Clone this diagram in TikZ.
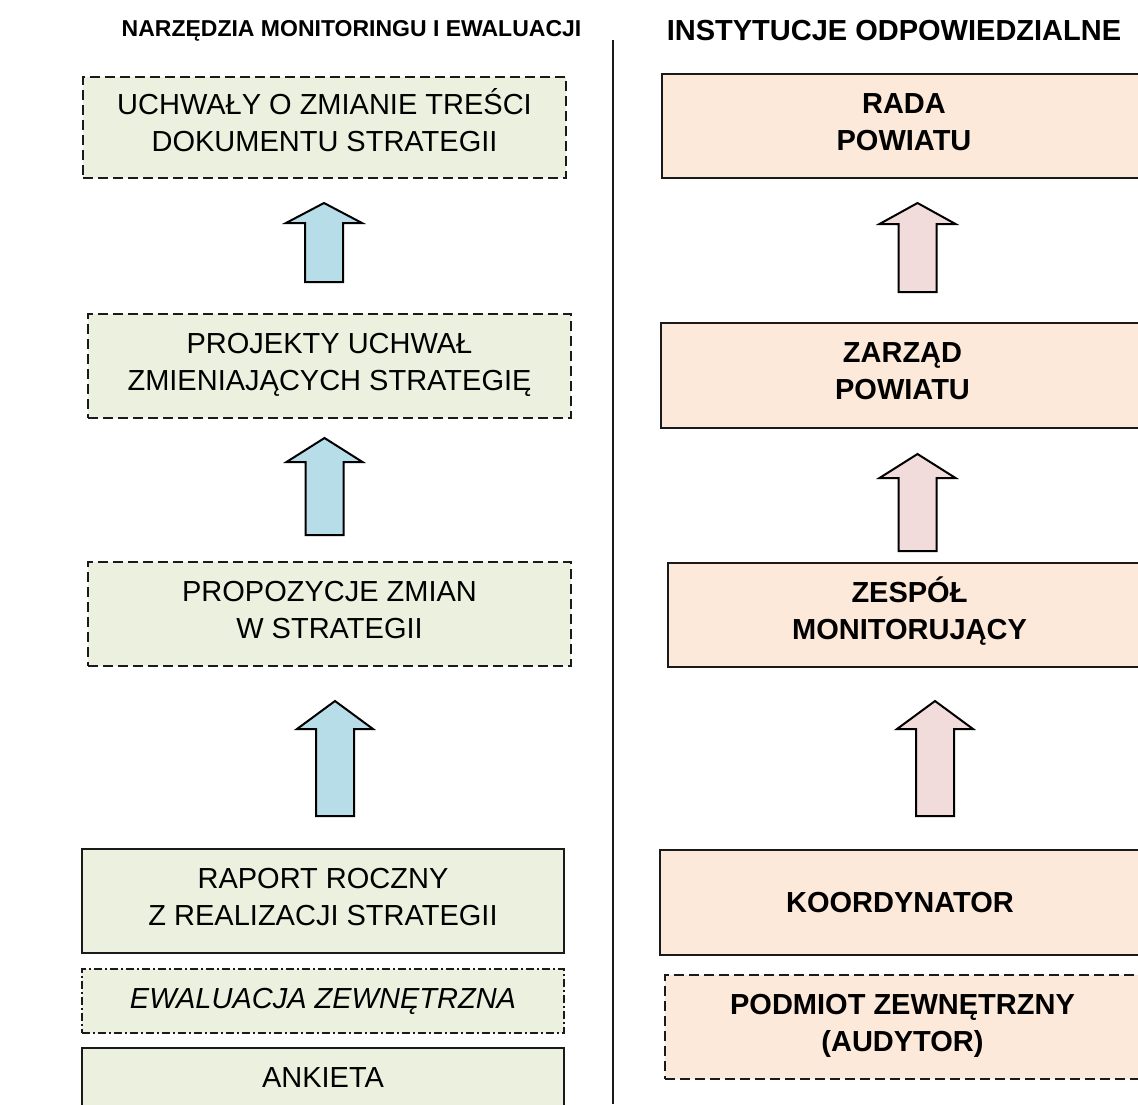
\documentclass[tikz,border=0pt]{standalone}
\usepackage{fontspec}
\setmainfont{Liberation Sans}
\definecolor{greenfill}{HTML}{EBF1DE}
\definecolor{orangefill}{HTML}{FDE9D9}
\definecolor{bluearrow}{HTML}{B7DEE8}
\definecolor{pinkarrow}{HTML}{F2DCDB}
\definecolor{edgecol}{HTML}{1A1A1A}
\newcommand\tophold{\rule{0pt}{27pt}}
\newcommand\bothold{\rule[-16pt]{0pt}{16pt}}
\begin{document}
\begin{tikzpicture}[x=1pt,y=-1pt,
  every node/.style={font=\fontsize{29}{37}\selectfont, align=center, inner sep=0pt},
  boxbase/.style={draw=edgecol, line width=1.6pt},
  lbox/.style={boxbase, fill=greenfill},
  rbox/.style={boxbase, fill=orangefill, font=\fontsize{29}{37}\selectfont\bfseries},
  dashline/.style={dash pattern=on 10pt off 5pt},
  dashdotline/.style={dash pattern=on 8pt off 3pt on 2pt off 3pt},
  heading/.style={font=\fontsize{23}{28}\selectfont\bfseries},
  blockarrow/.style={draw=black, line width=2pt, line join=miter},
  pics/uparrow/.style 2 args={code={
    \draw[pic actions] (0,0) -- (38,#1) -- (19,#1) -- (19,#2) -- (-19,#2) -- (-19,#1) -- (-38,#1) -- cycle;
  }}
]
\useasboundingbox (0,0) rectangle (1138,1104);
\clip (0,0) rectangle (1138,1104);

% headings
\node[heading] (hleft) at (351.5,31) {NARZĘDZIA MONITORINGU I EWALUACJI};
\node[heading, font=\fontsize{29}{34}\selectfont\bfseries] (hright) at (894,31) {INSTYTUCJE ODPOWIEDZIALNE};

% divider
\coordinate (divtop) at (613,40);
\coordinate (divbot) at (613,1104);
\draw[line width=1.5pt, edgecol] (divtop) -- (divbot);

% left column
\node[lbox, dashline, minimum width=483pt, minimum height=101pt] (uchwaly) at (324.5,127.5) {\tophold UCHWAŁY O ZMIANIE TREŚCI\\DOKUMENTU STRATEGII\bothold};
\node[lbox, dashline, minimum width=483pt, minimum height=104pt] (projekty) at (329.5,366) {\tophold PROJEKTY UCHWAŁ\\ZMIENIAJĄCYCH STRATEGIĘ\bothold};
\node[lbox, dashline, minimum width=483pt, minimum height=104pt] (propozycje) at (329.5,614) {\tophold PROPOZYCJE ZMIAN\\W STRATEGII\bothold};
\node[lbox, minimum width=482pt, minimum height=104pt] (raport) at (323,901) {\tophold RAPORT ROCZNY\\Z REALIZACJI STRATEGII\bothold};
\node[lbox, dashdotline, minimum width=482pt, minimum height=64pt, font=\fontsize{29}{37}\selectfont\itshape] (ewaluacja) at (323,1001) {EWALUACJA ZEWNĘTRZNA};
\node[lbox, minimum width=482pt, minimum height=60pt] (ankieta) at (323,1078) {ANKIETA};

\pic[blockarrow, fill=bluearrow] at (324,203) {uparrow={20}{79}};
\pic[blockarrow, fill=bluearrow] at (324.5,438) {uparrow={24}{97}};
\pic[blockarrow, fill=bluearrow] at (335,701) {uparrow={28}{115}};

% right column
\node[rbox, minimum width=484pt, minimum height=104pt] (rada) at (904,126) {\tophold RADA\\POWIATU\bothold};
\node[rbox, minimum width=483pt, minimum height=105pt] (zarzad) at (902.5,375.5) {\tophold ZARZĄD\\POWIATU\bothold};
\node[rbox, minimum width=483pt, minimum height=104pt] (zespol) at (909.5,615) {\tophold ZESPÓŁ\\MONITORUJĄCY\bothold};
\node[rbox, minimum width=480pt, minimum height=105pt] (koordynator) at (900,902.5) {KOORDYNATOR};
\node[rbox, dashline, minimum width=475pt, minimum height=104pt] (podmiot) at (902.5,1027) {\tophold PODMIOT ZEWNĘTRZNY\\(AUDYTOR)\bothold};

\pic[blockarrow, fill=pinkarrow] at (917.5,203) {uparrow={21}{89}};
\pic[blockarrow, fill=pinkarrow] at (917.5,454) {uparrow={24}{97}};
\pic[blockarrow, fill=pinkarrow] at (935,701) {uparrow={28}{115}};
\end{tikzpicture}
\end{document}
